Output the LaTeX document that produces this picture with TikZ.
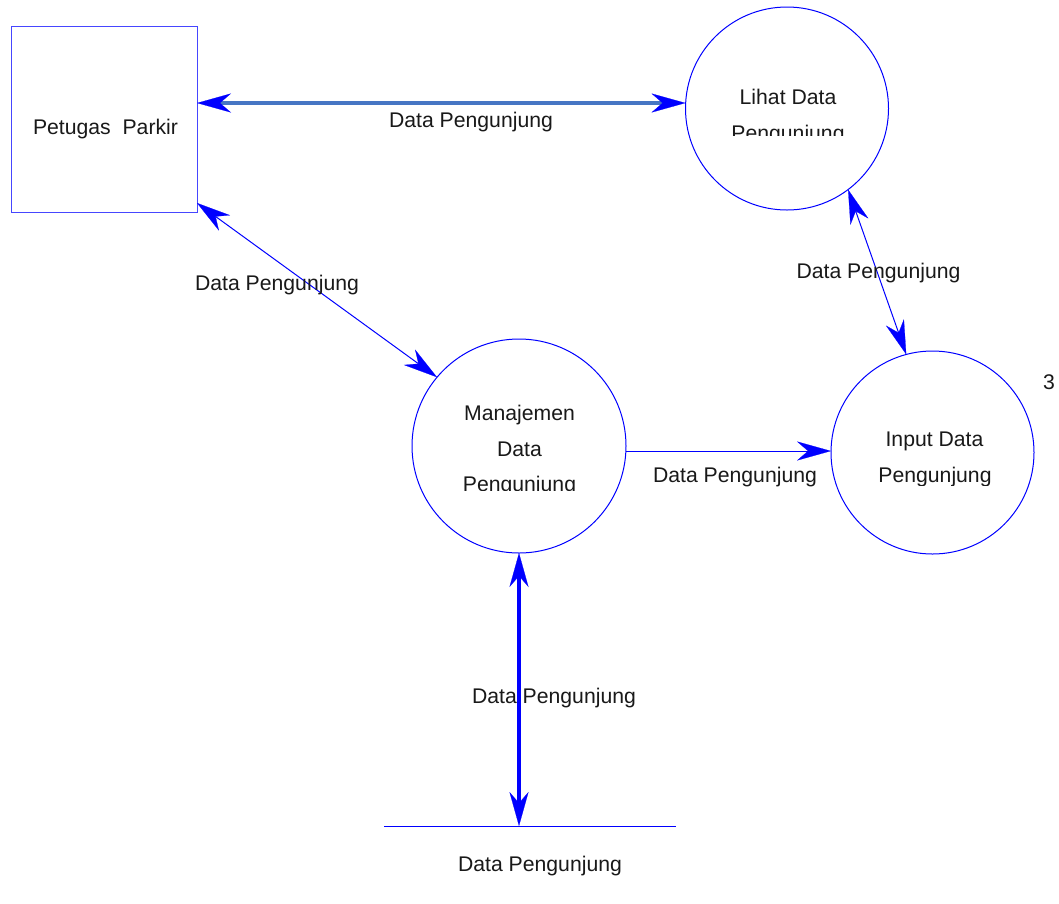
\documentclass[tikz,border=0pt]{standalone}
\usepackage{fontspec}
\setmainfont{Liberation Sans}
\usetikzlibrary{arrows.meta}
\definecolor{dfdblue}{RGB}{0,0,255}
\definecolor{boxblue}{RGB}{70,70,255}
\definecolor{flowsteel}{RGB}{70,118,196}
\tikzset{
  dfdtip/.tip={Stealth[length=34pt,width=19pt,inset=11pt,line width=0.2pt,color=dfdblue]},
}
\begin{document}
\begin{tikzpicture}[x=1pt,y=-1pt,
  lbl/.style={font=\fontsize{21.2pt}{36pt}\selectfont, text=black!90, anchor=base, inner sep=0pt},
  process/.style={circle, draw=dfdblue, line width=1pt, inner sep=0pt, outer sep=0pt, minimum size=#1},
  entity/.style={draw=boxblue, line width=1pt, inner sep=0pt, outer sep=0pt, minimum width=186pt, minimum height=186pt},
  thinflow/.style={draw=dfdblue, line width=1pt},
  thickflow/.style={draw=#1, line width=4pt},
]
% page
\fill[white] (0,0) rectangle (1059,903);
\useasboundingbox (0,0) rectangle (1059,903);

% external entity
\node[entity] (petugas) at (104,119) {};
\node[lbl] (petugasT) at (105.5,134) {Petugas\ \ Parkir};

% processes
\node[process=203pt] (lihat) at (787,108.5) {};
\node[lbl] (lihatA) at (788,104) {Lihat Data};
\begin{scope}
  \clip (690,110) rectangle (885,135);
  \node[lbl] (lihatB) at (788,140) {Pengunjung};
\end{scope}

\node[process=214pt] (manaj) at (519,446) {};
\node[lbl] (manajA) at (519.5,420) {Manajemen};
\node[lbl] (manajB) at (519.5,456) {Data};
\begin{scope}
  \clip (415,460) rectangle (625,490.5);
  \node[lbl] (manajC) at (519.5,491) {Pengunjung};
\end{scope}

\node[process=203pt] (input) at (932.5,452.5) {};
\node[lbl] (inputA) at (934.5,446) {Input Data};
\begin{scope}
  \clip (835,455) rectangle (1030,485);
  \node[lbl] (inputB) at (935,482) {Pengunjung};
\end{scope}

\node[lbl] (num) at (1049,389) {3};

% data store
\coordinate (storeL) at (384,826);
\coordinate (storeR) at (676,826);
\coordinate (storeM) at (519,826);
\draw[thinflow] (storeL) -- (storeR);
\node[lbl] (storeT) at (540,871) {Data Pengunjung};

% data flows
\draw[thickflow=flowsteel, dfdtip-dfdtip] (petugas.east |- 0,103) -- (lihat.west |- 0,103);
\node[lbl] (f1) at (471,127) {Data Pengunjung};

\draw[thinflow, dfdtip-dfdtip] (petugas.east |- 0,203) -- (manaj.140);
\node[lbl] (f2) at (277,290) {Data Pengunjung};

\draw[thinflow, dfdtip-dfdtip] (lihat.-53) -- (input.105);
\node[lbl] (f3) at (878.5,278) {Data Pengunjung};

\draw[thinflow, -dfdtip] (manaj.east |- 0,451) -- (input.west |- 0,451);
\node[lbl] (f4) at (735,482) {Data Pengunjung};

\draw[thickflow=dfdblue, dfdtip-dfdtip] (manaj.south) -- (storeM);
\node[lbl] (f5) at (554,703) {Data Pengunjung};
\end{tikzpicture}
\end{document}
